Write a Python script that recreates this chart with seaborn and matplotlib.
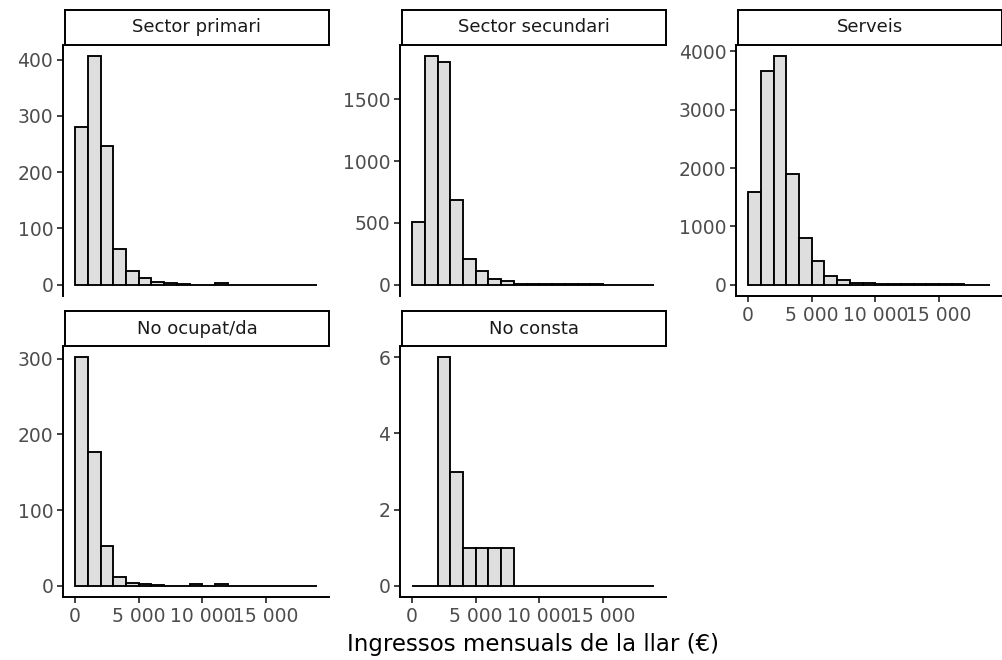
import numpy as np
import pandas as pd
import seaborn as sns
import matplotlib.pyplot as plt
from matplotlib.ticker import MaxNLocator, MultipleLocator, FuncFormatter

# Household monthly income histograms by sector of activity (binwidth 1000 €)
sectors = ["Sector primari", "Sector secundari", "Serveis", "No ocupat/da", "No consta"]
bin_width = 1000
bin_range = (0, 19000)  # 19 bins

counts_primari = [281, 406, 247, 64, 24, 12, 4, 2, 1, 0, 0, 2, 0, 0, 0, 0, 0, 0, 0]
counts_secundari = [508, 1848, 1801, 682, 204, 114, 46, 27, 8, 5, 3, 4, 2, 1, 1, 0, 0, 0, 0]
counts_serveis = [1583, 3667, 3915, 1905, 794, 403, 155, 86, 30, 25, 12, 10, 6, 5, 3, 2, 2, 1, 1]
counts_no_ocupat = [302, 177, 52, 12, 4, 2, 1, 0, 0, 2, 0, 2, 0, 0, 0, 0, 0, 0, 0]
counts_no_consta = [0, 0, 6, 3, 1, 1, 1, 1, 0, 0, 0, 0, 0, 0, 0, 0, 0, 0, 0]

all_counts = [counts_primari, counts_secundari, counts_serveis, counts_no_ocupat, counts_no_consta]

bin_lows = np.arange(bin_range[0], bin_range[1], bin_width)
rows = []
for name, cnt in zip(sectors, all_counts):
    for lo, c in zip(bin_lows, cnt):
        rows.append((name, lo + bin_width / 2, c))
df = pd.DataFrame(rows, columns=["sector", "ingressos", "n"])

sns.set_style("ticks")
plt.rcParams["font.family"] = ["DejaVu Sans"]

W, H = 1003, 660
g = sns.FacetGrid(df, col="sector", col_order=sectors, col_wrap=3,
                  sharex=True, sharey=False, despine=True)
g.figure.set_size_inches(W / 100, H / 100)
g.map_dataframe(sns.histplot, x="ingressos", weights="n",
                binwidth=bin_width, binrange=bin_range,
                facecolor="#dedede", edgecolor="black", linewidth=1.35, alpha=1)
g.set_titles(template="")
g.set_axis_labels("", "")

fig = g.figure
cols_left = [63, 400, 736]
panel_w = 266
rows_top = [45, 346]
panel_h = 251
strip_h = 35

axes = g.axes.flat
for i, (ax, name) in enumerate(zip(axes, sectors)):
    r, c = divmod(i, 3)
    left = cols_left[c]
    top = rows_top[r]
    ax.set_position([left / W, (H - top - panel_h) / H, panel_w / W, panel_h / H])
    ax.set_xlim(-950, 19950)
    ymax = max(all_counts[i])
    ax.set_ylim(-0.05 * ymax, 1.05 * ymax)
    ax.yaxis.set_major_locator(MaxNLocator(nbins=5, steps=[1, 2, 5, 10], integer=True))
    ax.xaxis.set_major_locator(MultipleLocator(5000))
    ax.xaxis.set_major_formatter(FuncFormatter(lambda v, p: f"{int(v):,}".replace(",", " ")))
    ax.tick_params(axis="both", colors="#333333", labelcolor="#4d4d4d",
                   labelsize=13.5, length=4, width=1.3, direction="out", pad=3)
    for sp in ("left", "bottom"):
        ax.spines[sp].set_color("black")
        ax.spines[sp].set_linewidth(1.4)
    if name in ("Sector primari", "Sector secundari"):
        ax.spines["bottom"].set_visible(False)
        ax.tick_params(axis="x", bottom=False, labelbottom=False)
    else:
        ax.tick_params(axis="x", bottom=True, labelbottom=True)
    ax.set_xlabel("")
    ax.set_ylabel("")

    # strip with the facet name
    sax = fig.add_axes([(left + 2) / W, (H - top) / H, (panel_w - 2) / W, strip_h / H])
    sax.set_xticks([])
    sax.set_yticks([])
    sax.set_facecolor("white")
    for sp in sax.spines.values():
        sp.set_visible(True)
        sp.set_color("black")
        sp.set_linewidth(1.4)
    sax.text(0.5, 0.5, name, ha="center", va="center", fontsize=13, color="#1a1a1a",
             transform=sax.transAxes)

fig.text((63 + 1003) / 2 / W, 1 - 645 / H, "Ingressos mensuals de la llar (€)",
         ha="center", va="center", fontsize=16.5, color="black")

fig.savefig("out.png", dpi=100, facecolor="white")
